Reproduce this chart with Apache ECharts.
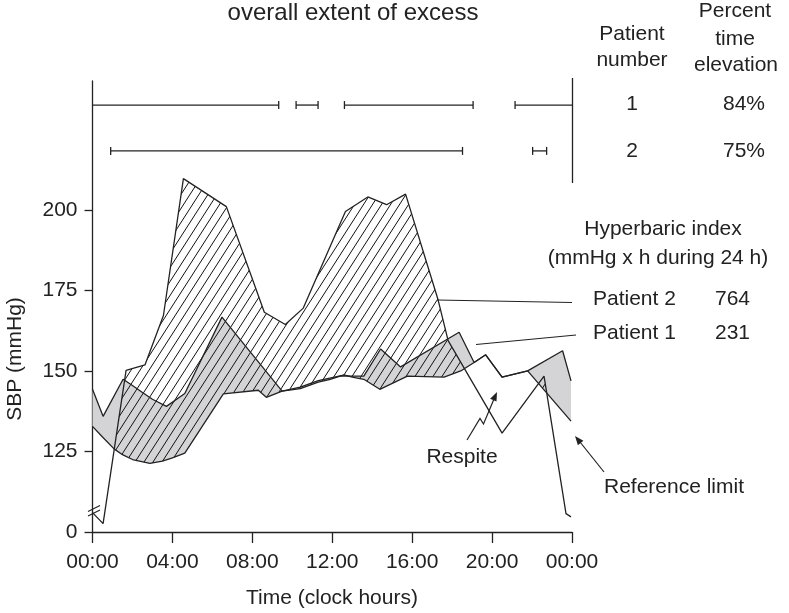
<!DOCTYPE html>
<html>
<head>
<meta charset="utf-8">
<script src="https://cdn.jsdelivr.net/npm/echarts@6/dist/echarts.min.js"></script>
<style>
html, body { margin: 0; padding: 0; background: #fff; }
#main { width: 789px; height: 613px; }
</style>
</head>
<body>
<div id="main"></div>
<script>
// reference limit and the two patients, hours vs SBP (values below 125 sit on the broken axis, "0" = 100)
var refHours = [0, 0.5, 1.08, 1.5, 2.0, 2.87, 3.5, 4.0, 4.62, 6.55, 8.3, 8.7, 9.49, 10.4, 11.3, 11.9, 12.58, 13.0, 13.58, 14.38, 15.76, 17.6, 18.43, 19.1, 19.68, 20.5, 21.78, 23.95];
var refSbp = [132.8, 129.5, 125.8, 124, 122.5, 121.3, 122, 123, 124.5, 142.9, 144, 141.8, 143.75, 144.5, 146.5, 147.4, 148.75, 148.1, 147.4, 144.3, 148.4, 148.1, 150, 152.6, 155, 148.1, 150, 134.4];

var p1Hours = [0, 0.53, 1.53, 2.0, 2.5, 3.0, 3.7, 4.62, 6.48, 9.49, 10.4, 11.3, 12.4, 13.0, 13.58, 14.42, 15.42, 18.35, 19.1, 19.68, 20.5, 21.78, 23.53, 23.95];
var p1Sbp = [144.3, 135.9, 147.4, 145.5, 143.3, 141.2, 139, 143, 166.7, 143.75, 145, 147, 148.5, 148.4, 148.4, 156.8, 151.25, 162, 152.6, 155, 148.1, 150, 156.25, 146.9];

var p2Hours = [0, 0.53, 1.68, 2.63, 3.55, 4.55, 6.7, 8.6, 9.65, 10.55, 12.66, 13.78, 14.72, 15.67, 17.3, 17.8, 20.5, 22.6, 23.7, 23.95];
var p2Sbp = [106, 102.6, 150.2, 151.9, 167.2, 209.7, 201, 168.2, 164.4, 169.5, 199.5, 204, 201.6, 204.9, 172, 159.4, 130.7, 148.4, 105.7, 104.7];

// overall extent of excess (hours)
var excess1Start = [0, 10.19, 12.61, 21.15];
var excess1End = [9.32, 11.29, 19.05, 24];
var excess2Start = [0.91, 22.03];
var excess2End = [18.52, 22.73];

var patientNumbers = ['1', '2'];
var percentElevation = ['84%', '75%'];
var hyperbaricIndex = [764, 231];

var sbpTicks = [100, 125, 150, 175, 200];
var sbpTickLabels = ['0', '125', '150', '175', '200'];

var FONT = '"Liberation Sans", Arial, sans-serif';
var INK = '#222';

function zip(xs, ys) {
    return xs.map(function (x, i) { return [x, ys[i]]; });
}

function interp(xs, ys, x) {
    for (var i = 0; i < xs.length - 1; i++) {
        if (x >= xs[i] && x <= xs[i + 1]) {
            var t = (x - xs[i]) / (xs[i + 1] - xs[i]);
            return ys[i] + t * (ys[i + 1] - ys[i]);
        }
    }
    return ys[ys.length - 1];
}

// polygon of the area where curve A lies above curve B
function excessBand(hA, vA, hB, vB) {
    var lo = Math.max(hA[0], hB[0]);
    var hi = Math.min(hA[hA.length - 1], hB[hB.length - 1]);
    var xs = hA.concat(hB).filter(function (x) { return x >= lo && x <= hi; });
    xs.sort(function (a, b) { return a - b; });
    var u = [];
    xs.forEach(function (x) {
        if (!u.length || x - u[u.length - 1] > 1e-9) u.push(x);
    });
    var pts = [];
    for (var i = 0; i < u.length; i++) {
        var x = u[i], a = interp(hA, vA, x), b = interp(hB, vB, x);
        if (i > 0) {
            var p = pts[pts.length - 1];
            var d0 = p[1] - p[2], d1 = a - b;
            if (d0 * d1 < 0) {
                var t = d0 / (d0 - d1);
                var cb = p[2] + t * (b - p[2]);
                pts.push([p[0] + t * (x - p[0]), cb, cb]);
            }
        }
        pts.push([x, a, b]);
    }
    var top = pts.map(function (p) { return [p[0], Math.max(p[1], p[2])]; });
    var bottom = pts.map(function (p) { return [p[0], p[2]]; }).reverse();
    return top.concat(bottom);
}

var greyBand = excessBand(p1Hours, p1Sbp, refHours, refSbp);
var hatchBand = excessBand(p2Hours, p2Sbp, refHours, refSbp);

// hatch tile: "/" lines
var tile = document.createElement('canvas');
tile.width = 9;
tile.height = 14;
var tctx = tile.getContext('2d');
tctx.strokeStyle = '#111';
tctx.lineWidth = 1;
[-9, 0, 9].forEach(function (o) {
    tctx.beginPath();
    tctx.moveTo(o, 14);
    tctx.lineTo(o + 9, 0);
    tctx.stroke();
});

function bandSeries(band, fill, z) {
    return {
        type: 'custom',
        xAxisIndex: 0,
        yAxisIndex: 0,
        silent: true,
        z: z,
        data: band,
        renderItem: function (params, api) {
            if (params.dataIndex !== 0) return null;
            return {
                type: 'polygon',
                shape: { points: band.map(function (p) { return api.coord(p); }) },
                style: { fill: fill, stroke: null }
            };
        }
    };
}

function curveSeries(name, hours, sbp) {
    return {
        name: name,
        type: 'line',
        xAxisIndex: 0,
        yAxisIndex: 0,
        data: zip(hours, sbp),
        symbol: 'none',
        silent: true,
        z: 5,
        lineStyle: { color: INK, width: 1.3 }
    };
}

var excessData = [];
excess1Start.forEach(function (s, i) { excessData.push([s, excess1End[i], 1]); });
excess2Start.forEach(function (s, i) { excessData.push([s, excess2End[i], 2]); });

function txt(text, x, y, size, align) {
    return {
        type: 'text',
        silent: true,
        style: {
            text: text, x: x, y: y, fill: INK,
            font: size + 'px ' + FONT,
            align: align || 'center', verticalAlign: 'middle'
        }
    };
}

function seg(x1, y1, x2, y2) {
    return { type: 'line', silent: true, shape: { x1: x1, y1: y1, x2: x2, y2: y2 }, style: { stroke: INK, lineWidth: 1.2 } };
}

var graphics = [
    txt('overall extent of excess', 353, 13, 24),
    txt('Patient', 632, 34, 21),
    txt('number', 632, 60, 21),
    txt('Percent', 735, 11, 21),
    txt('time', 735, 39, 21),
    txt('elevation', 736, 65, 21),
    txt(patientNumbers[0], 632, 104, 21),
    txt(percentElevation[0], 744, 104, 21),
    txt(patientNumbers[1], 632, 151, 21),
    txt(percentElevation[1], 744, 151, 21),
    txt('Hyperbaric index', 663, 229, 21),
    txt('(mmHg x h during 24 h)', 658, 258, 21),
    txt('Patient 2', 593, 299, 21, 'left'),
    txt(String(hyperbaricIndex[0]), 715, 299, 21, 'left'),
    txt('Patient 1', 593, 333, 21, 'left'),
    txt(String(hyperbaricIndex[1]), 715, 333, 21, 'left'),
    seg(437, 300, 572, 302.5),
    seg(476, 344.5, 576, 335),
    txt('Respite', 462, 457, 21),
    { type: 'polyline', silent: true, shape: { points: [[467, 440], [480, 418.5], [483.5, 424], [494, 399]] }, style: { stroke: INK, lineWidth: 1.2, fill: null } },
    { type: 'polygon', silent: true, shape: { points: [[497, 392], [496.5, 401.6], [490.1, 398.8]] }, style: { fill: INK } },
    txt('Reference limit', 674, 487, 21),
    seg(604, 472, 580, 442),
    { type: 'polygon', silent: true, shape: { points: [[575, 436], [583.4, 440.8], [577.9, 445.2]] }, style: { fill: INK } },
    seg(88, 511.5, 100, 505.5),
    seg(88, 516, 100, 510),
    {
        type: 'text', silent: true, rotation: Math.PI / 2, x: 15, y: 359,
        style: { text: 'SBP (mmHg)', x: 0, y: 0, fill: INK, font: '21px ' + FONT, align: 'center', verticalAlign: 'middle' }
    },
    txt('Time (clock hours)', 332, 598, 21)
];

var chart = echarts.init(document.getElementById('main'));

var option = {
    animation: false,
    backgroundColor: '#fff',
    grid: [
        { left: 92.5, right: 217, top: 81, bottom: 81 },
        { left: 92.5, right: 217, top: 78, height: 105 }
    ],
    xAxis: [
        {
            type: 'value', gridIndex: 0, min: 0, max: 24, interval: 4,
            axisLine: { lineStyle: { color: INK, width: 1.3 } },
            axisTick: { length: 11, lineStyle: { color: INK, width: 1.3 } },
            axisLabel: {
                color: INK, fontFamily: FONT, fontSize: 21, margin: 20,
                formatter: function (h) {
                    var v = h % 24;
                    return (v < 10 ? '0' : '') + v + ':00';
                }
            },
            splitLine: { show: false }
        },
        { type: 'value', gridIndex: 1, min: 0, max: 24, show: false }
    ],
    yAxis: [
        {
            type: 'value', gridIndex: 0, min: 100, max: 240, interval: 25,
            axisLine: { show: true, lineStyle: { color: INK, width: 1.3 } },
            axisTick: { show: true, length: 8, customValues: sbpTicks, lineStyle: { color: INK, width: 1.3 } },
            axisLabel: {
                color: INK, fontFamily: FONT, fontSize: 21, margin: 15,
                customValues: sbpTicks,
                formatter: function (v) { return sbpTickLabels[sbpTicks.indexOf(v)]; }
            },
            splitLine: { show: false }
        },
        { type: 'value', gridIndex: 1, inverse: true, min: 0.41, max: 2.7, show: false }
    ],
    graphic: graphics,
    series: [
        bandSeries(greyBand, '#d4d4d6', 1),
        bandSeries(hatchBand, { image: tile, repeat: 'repeat' }, 2),
        curveSeries('Reference limit', refHours, refSbp),
        curveSeries('Patient 1', p1Hours, p1Sbp),
        curveSeries('Patient 2', p2Hours, p2Sbp),
        {
            type: 'custom',
            xAxisIndex: 1,
            yAxisIndex: 1,
            silent: true,
            data: excessData,
            encode: { x: [0, 1], y: 2 },
            renderItem: function (params, api) {
                var s = api.value(0), e = api.value(1), r = api.value(2);
                var a = api.coord([s, r]), b = api.coord([e, r]);
                var st = { stroke: INK, lineWidth: 1.3 };
                var ch = [{ type: 'line', shape: { x1: a[0], y1: a[1], x2: b[0], y2: b[1] }, style: st }];
                if (s > 0) ch.push({ type: 'line', shape: { x1: a[0], y1: a[1] - 4, x2: a[0], y2: a[1] + 4 }, style: st });
                if (e < 24) ch.push({ type: 'line', shape: { x1: b[0], y1: b[1] - 4, x2: b[0], y2: b[1] + 4 }, style: st });
                return { type: 'group', children: ch };
            }
        },
        {
            type: 'line',
            xAxisIndex: 1,
            yAxisIndex: 1,
            data: [],
            silent: true,
            markLine: {
                silent: true,
                symbol: ['none', 'none'],
                label: { show: false },
                lineStyle: { color: INK, width: 1.3, type: 'solid' },
                data: [{ xAxis: 24 }]
            }
        }
    ]
};

chart.setOption(option);
</script>
</body>
</html>
